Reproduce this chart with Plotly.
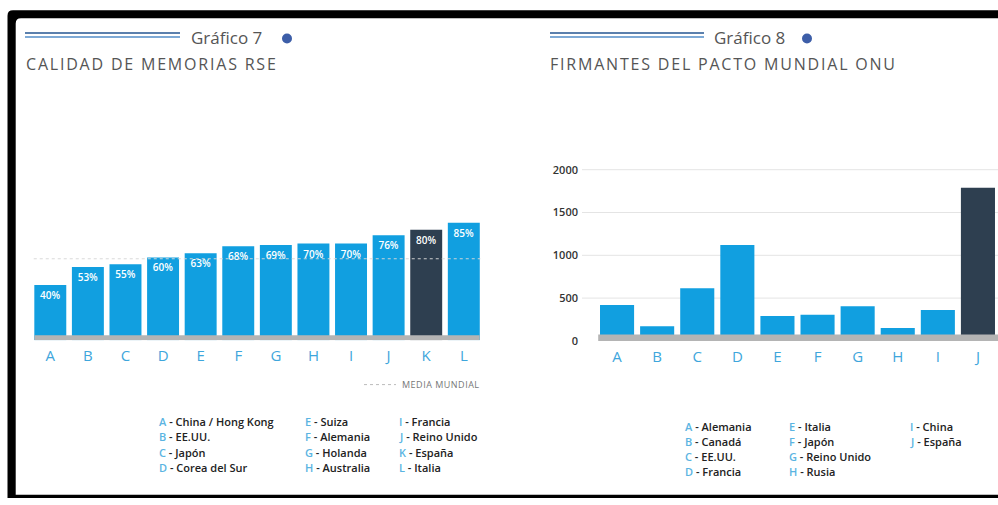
import plotly.graph_objects as go

W, H = 998, 505

# ---------------- data ----------------
cats7 = ["A", "B", "C", "D", "E", "F", "G", "H", "I", "J", "K", "L"]
vals7 = [40, 53, 55, 60, 63, 68, 69, 70, 70, 76, 80, 85]
highlight7 = "K"
media_mundial = 59

cats8 = ["A", "B", "C", "D", "E", "F", "G", "H", "I", "J"]
vals8 = [420, 170, 615, 1120, 290, 305, 405, 150, 360, 1790]
highlight8 = "J"
ticks8 = [0, 500, 1000, 1500, 2000]

legend7 = [
    ["China / Hong Kong", "EE.UU.", "Japón", "Corea del Sur"],
    ["Suiza", "Alemania", "Holanda", "Australia"],
    ["Francia", "Reino Unido", "España", "Italia"],
]
legend8 = [
    ["Alemania", "Canadá", "EE.UU.", "Francia"],
    ["Italia", "Japón", "Reino Unido", "Rusia"],
    ["China", "España"],
]

# ---------------- style ----------------
BLUE = "#119fe0"
DARK = "#2e3f50"
LETTER = "#3ea6dc"
LEG_LETTER = "#5ab4e2"
GRAY_TXT = "#555555"
FONT = "Open Sans"


def px(x):
    return x / W


def py(y):
    return 1 - y / H


fig = go.Figure()

fig.add_bar(
    x=cats7, y=vals7,
    marker=dict(color=[DARK if c == highlight7 else BLUE for c in cats7], line=dict(width=0)),
    text=[f"{v}%" for v in vals7], textposition="inside", insidetextanchor="end",
    textangle=0, constraintext="none",
    textfont=dict(color="white", size=10, family=FONT, weight=600),
    xaxis="x", yaxis="y", hoverinfo="skip", showlegend=False,
)
fig.add_bar(
    x=cats8, y=vals8,
    marker=dict(color=[DARK if c == highlight8 else BLUE for c in cats8], line=dict(width=0)),
    xaxis="x2", yaxis="y2", hoverinfo="skip", showlegend=False,
)

shapes = []
# black frame (with rounded top-left corner)
path = (f"M {px(7.5)},{py(505)} L {px(7.5)},{py(16)} Q {px(7.5)},{py(10.5)} {px(13)},{py(10.5)} "
        f"L {px(998)},{py(10.5)} L {px(998)},{py(18.5)} L {px(21)},{py(18.5)} "
        f"Q {px(15.7)},{py(18.5)} {px(15.7)},{py(24)} L {px(15.7)},{py(501.7)} "
        f"L {px(998)},{py(501.7)} L {px(998)},{py(505)} Z")
shapes.append(dict(type="path", xref="paper", yref="paper", path=path,
                   fillcolor="black", line=dict(width=0), layer="below"))

# gridlines chart 8
for t in ticks8[1:]:
    shapes.append(dict(type="line", xref="paper", yref="y2", x0=px(582), x1=1.0,
                       y0=t, y1=t, line=dict(color="#e4e4e4", width=1), layer="below"))

# media mundial dotted line
shapes.append(dict(type="line", xref="x domain", yref="y", x0=0.005, x1=0.995,
                   y0=media_mundial, y1=media_mundial,
                   line=dict(color="rgba(215,215,215,0.95)", width=1, dash="dot")))
# baseline strips
shapes.append(dict(type="rect", xref="x domain", yref="y", x0=0.0065, x1=0.9935, y0=0, y1=3.6,
                   fillcolor="#b4b4b4", line=dict(width=0)))
shapes.append(dict(type="rect", xref="x2 domain", yref="y2", x0=0.003, x1=1.0, y0=0, y1=75,
                   fillcolor="#b4b4b4", line=dict(width=0)))

# title decorations
for x0, x1 in [(25, 180), (550, 704)]:
    shapes.append(dict(type="line", xref="paper", yref="paper", x0=px(x0), x1=px(x1),
                       y0=py(33.5), y1=py(33.5), line=dict(color="#5b80ad", width=2)))
    shapes.append(dict(type="line", xref="paper", yref="paper", x0=px(x0), x1=px(x1),
                       y0=py(37.5), y1=py(37.5), line=dict(color="#7eaad6", width=2)))
for cx in [287, 807]:
    shapes.append(dict(type="circle", xref="paper", yref="paper",
                       x0=px(cx - 5), x1=px(cx + 5), y0=py(39 + 5), y1=py(39 - 5),
                       fillcolor="#3d5ea8", line=dict(width=0)))
# media mundial legend dots
shapes.append(dict(type="line", xref="paper", yref="paper", x0=px(364), x1=px(396),
                   y0=py(390), y1=py(390), line=dict(color="#bbbbbb", width=1, dash="dot")))

annotations = []


def ann(x, y, text, size, color=GRAY_TXT, weight=400, xanchor="left", spacing=0):
    if spacing:
        text = f"<span style='letter-spacing:{spacing}px'>{text}</span>"
    annotations.append(dict(xref="paper", yref="paper", x=px(x), y=py(y), text=text,
                            showarrow=False, xanchor=xanchor, yanchor="middle",
                            font=dict(family=FONT, size=size, color=color, weight=weight)))


ann(189, 38, "Gráfico 7", 17)
ann(712, 38, "Gráfico 8", 17)
ann(24, 65, "CALIDAD DE MEMORIAS RSE", 16, spacing=1.8)
ann(548, 65, "FIRMANTES DEL PACTO MUNDIAL ONU", 16, spacing=1.8)
ann(400, 390, "MEDIA MUNDIAL", 9, color="#777777", spacing=0.5)


def legend(cols, cats, xs, ys):
    i = 0
    for ci, col in enumerate(cols):
        for ri, name in enumerate(col):
            letter = cats[i]
            i += 1
            ann(xs[ci], ys[ri], f"<span style='color:{LEG_LETTER}'>{letter}</span> - {name}",
                11, color="#222222", weight=600)


legend(legend7, cats7, [157, 303, 397], [427, 443, 459, 474])
legend(legend8, cats8, [683, 787, 908], [433, 448, 463, 478])

fig.update_layout(
    width=W, height=H, margin=dict(l=0, r=0, t=0, b=0),
    paper_bgcolor="white", plot_bgcolor="rgba(0,0,0,0)",
    bargap=0.15, showlegend=False,
    shapes=shapes, annotations=annotations,
    font=dict(family=FONT),
    xaxis=dict(domain=[px(31.5), px(482.6)], anchor="y", type="category",
               range=[-0.5, len(cats7) - 0.5], showline=False, showgrid=False, zeroline=False,
               ticks="", ticklabelstandoff=5,
               tickfont=dict(color=LETTER, size=15, family=FONT)),
    yaxis=dict(domain=[py(345), py(205)], range=[0, 100], visible=False),
    xaxis2=dict(domain=[px(597), 1.0], anchor="y2", type="category",
                range=[-0.5, len(cats8) - 0.5], showline=False, showgrid=False, zeroline=False,
                ticks="", ticklabelstandoff=5,
                tickfont=dict(color=LETTER, size=15, family=FONT)),
    yaxis2=dict(domain=[py(345.7), py(163.4)], range=[0, 2100], anchor="x2",
                tickvals=ticks8, showgrid=False, zeroline=False, showline=False,
                ticks="", ticklabelstandoff=18,
                tickfont=dict(color="#333333", size=11, family=FONT, weight=600)),
)

fig.write_html("out.html")
